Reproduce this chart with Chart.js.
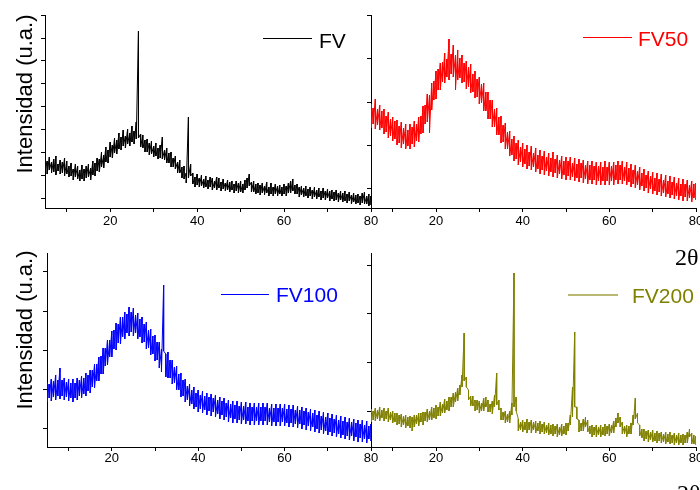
<!DOCTYPE html>
<html>
<head>
<meta charset="utf-8">
<script src="https://cdn.jsdelivr.net/npm/chart.js@4/dist/chart.umd.min.js"></script>
<style>
  body { margin: 0; background: #fff; }
  #wrap { position: relative; width: 700px; height: 490px; overflow: hidden; background: #fff; font-family: 'Liberation Sans', Arial, sans-serif; }
  canvas { position: absolute; }
  .lg { position: absolute; font-size: 21px; line-height: 21px; white-space: nowrap; }
  .lgline { position: absolute; height: 1px; }
  .ytitle { position: absolute; font-size: 22px; line-height: 22px; white-space: nowrap; transform: translate(-50%, -50%) rotate(-90deg); }
  .xtitle { position: absolute; font-family: 'Liberation Serif', 'DejaVu Serif', serif; font-size: 24px; line-height: 24px; }
</style>
</head>
<body>
<div id="wrap">
  <canvas id="c1" width="365" height="232" style="left:25px;top:5px"></canvas>
  <canvas id="c2" width="349" height="232" style="left:351px;top:5px"></canvas>
  <canvas id="c3" width="363" height="232" style="left:27px;top:243px"></canvas>
  <canvas id="c4" width="349" height="232" style="left:351px;top:243px"></canvas>

  <div class="ytitle" style="left:25px;top:94px">Intensidad (u.a.)</div>
  <div class="ytitle" style="left:25px;top:330px">Intensidad (u.a.)</div>
  <div class="xtitle" style="left:675px;top:245px">2θ</div>
  <div class="xtitle" style="left:677px;top:481px">2θ</div>

  <div class="lgline" style="left:263px;top:38px;width:49px;background:#000"></div>
  <div class="lg" style="left:319px;top:30px;color:#000">FV</div>
  <div class="lgline" style="left:583px;top:37px;width:49px;background:#f00"></div>
  <div class="lg" style="left:638px;top:28px;color:#f00">FV50</div>
  <div class="lgline" style="left:221px;top:294px;width:48px;background:#00f"></div>
  <div class="lg" style="left:276px;top:284px;color:#00f">FV100</div>
  <div class="lgline" style="left:568px;top:294px;width:50px;height:2px;background:rgba(128,128,0,0.55)"></div>
  <div class="lg" style="left:632px;top:285px;color:#808000">FV200</div>
</div>
<script>
// 2θ (degrees)
const angles = [
  5, 5.5, 6, 6.5, 7, 7.5, 8, 8.5, 9, 9.5,
  10, 10.5, 11, 11.5, 12, 12.5, 13, 13.5, 14, 14.5,
  15, 15.5, 16, 16.5, 17, 17.5, 18, 18.5, 19, 19.5,
  20, 20.5, 21, 21.5, 22, 22.5, 23, 23.5, 24, 24.5,
  25, 25.5, 26, 26.5, 27, 27.5, 28, 28.5, 29, 29.5,
  30, 30.5, 31, 31.5, 32, 32.5, 33, 33.5, 34, 34.5,
  35, 35.5, 36, 36.5, 37, 37.5, 38, 38.5, 39, 39.5,
  40, 40.5, 41, 41.5, 42, 42.5, 43, 43.5, 44, 44.5,
  45, 45.5, 46, 46.5, 47, 47.5, 48, 48.5, 49, 49.5,
  50, 50.5, 51, 51.5, 52, 52.5, 53, 53.5, 54, 54.5,
  55, 55.5, 56, 56.5, 57, 57.5, 58, 58.5, 59, 59.5,
  60, 60.5, 61, 61.5, 62, 62.5, 63, 63.5, 64, 64.5,
  65, 65.5, 66, 66.5, 67, 67.5, 68, 68.5, 69, 69.5,
  70, 70.5, 71, 71.5, 72, 72.5, 73, 73.5, 74, 74.5,
  75, 75.5, 76, 76.5, 77, 77.5, 78, 78.5, 79, 79.5,
  80
];

// intensity (u.a.): top and bottom of the noisy trace at each angle
const fvHigh = [
  50, 47, 51, 46, 49, 52, 44, 48, 46, 50,
  47, 42, 45, 39, 44, 42, 38, 43, 39, 42,
  44, 40, 47, 45, 50, 49, 56, 53, 61, 58,
  66, 63, 70, 68, 75, 71, 78, 72, 79, 75,
  82, 77, 86, 177, 74, 73, 68, 69, 65, 67,
  62, 65, 60, 63, 71, 58, 60, 55, 56, 50,
  52, 46, 48, 41, 42, 35, 91, 44, 35, 31,
  34, 30, 33, 29, 32, 28, 31, 30, 27, 31,
  30, 26, 29, 25, 28, 26, 27, 24, 27, 25,
  27, 24, 28, 30, 34, 26, 27, 24, 25, 23,
  25, 22, 26, 21, 25, 21, 24, 22, 23, 21,
  24, 22, 25, 27, 29, 23, 24, 21, 22, 20,
  22, 19, 21, 18, 21, 18, 20, 17, 20, 17,
  19, 17, 18, 16, 18, 15, 17, 15, 17, 14,
  16, 13, 15, 13, 14, 12, 15, 16, 12, 14,
  12
];
const fvLow = [
  37, 34, 38, 35, 36, 33, 37, 34, 35, 32,
  34, 31, 32, 28, 31, 29, 27, 29, 27, 30,
  31, 28, 33, 32, 37, 36, 41, 40, 46, 45,
  51, 50, 55, 54, 59, 58, 62, 60, 64, 62,
  66, 64, 69, 70, 61, 60, 56, 56, 53, 54,
  51, 52, 49, 50, 49, 48, 45, 45, 41, 41,
  39, 35, 35, 30, 29, 25, 30, 32, 24, 21,
  23, 21, 22, 20, 21, 19, 21, 18, 20, 18,
  20, 17, 19, 17, 18, 16, 18, 15, 17, 15,
  16, 15, 18, 20, 22, 16, 16, 14, 15, 13,
  15, 13, 15, 12, 14, 12, 14, 12, 14, 12,
  14, 12, 15, 15, 17, 14, 14, 11, 13, 11,
  12, 10, 12, 9, 11, 9, 11, 8, 10, 8,
  10, 7, 9, 7, 8, 6, 8, 6, 7, 5,
  7, 4, 6, 4, 5, 3, 5, 4, 4, 2,
  3
];

const fv50High = [
  104, 100, 109, 99, 103, 97, 99, 92, 96, 89,
  91, 87, 88, 82, 86, 80, 84, 78, 84, 81,
  87, 84, 91, 92, 102, 103, 114, 113, 125, 127,
  137, 139, 145, 146, 155, 149, 169, 154, 163, 153,
  158, 150, 153, 145, 147, 141, 144, 134, 137, 129,
  131, 124, 125, 116, 116, 108, 108, 99, 100, 91,
  92, 83, 85, 76, 77, 69, 72, 65, 68, 61,
  65, 59, 63, 56, 62, 55, 60, 53, 58, 52,
  57, 51, 55, 50, 56, 49, 53, 48, 52, 47,
  51, 47, 51, 45, 50, 44, 49, 45, 48, 43,
  47, 43, 47, 42, 46, 42, 46, 41, 47, 41,
  46, 42, 46, 43, 47, 43, 47, 41, 46, 40,
  44, 38, 43, 37, 41, 35, 39, 33, 37, 32,
  36, 30, 35, 29, 34, 28, 33, 27, 32, 26,
  31, 25, 30, 24, 29, 24, 28, 23, 27, 24,
  25
];
const fv50Low = [
  80, 84, 79, 83, 78, 80, 74, 76, 70, 72,
  67, 69, 63, 65, 60, 64, 59, 62, 59, 64,
  61, 67, 66, 74, 75, 84, 86, 75, 98, 108,
  109, 118, 118, 126, 125, 131, 128, 134, 131, 118,
  128, 130, 125, 126, 119, 121, 115, 116, 110, 111,
  104, 105, 97, 97, 89, 89, 81, 81, 73, 73,
  65, 66, 59, 59, 52, 53, 47, 49, 43, 46,
  41, 44, 39, 42, 38, 41, 36, 39, 34, 38,
  33, 37, 32, 36, 31, 35, 30, 34, 29, 33,
  28, 32, 28, 31, 27, 30, 26, 30, 25, 29,
  24, 28, 24, 28, 23, 27, 23, 27, 23, 27,
  23, 27, 23, 28, 24, 28, 24, 27, 23, 26,
  21, 24, 20, 23, 18, 22, 17, 20, 15, 19,
  14, 17, 13, 16, 12, 15, 11, 14, 10, 13,
  9, 12, 8, 12, 7, 11, 7, 10, 6, 10,
  8
];

const fv100High = [
  65, 63, 68, 66, 72, 67, 79, 67, 69, 65,
  68, 64, 68, 64, 69, 67, 71, 69, 74, 72,
  77, 77, 83, 83, 90, 91, 99, 99, 107, 107,
  116, 117, 124, 123, 130, 130, 135, 133, 140, 135,
  139, 132, 134, 128, 130, 123, 125, 117, 118, 111,
  112, 105, 105, 98, 162, 93, 95, 87, 87, 80,
  81, 73, 74, 67, 68, 61, 63, 57, 60, 54,
  57, 52, 56, 51, 54, 50, 53, 49, 52, 47,
  50, 46, 49, 44, 47, 43, 46, 42, 46, 41,
  45, 41, 45, 40, 44, 40, 44, 40, 44, 40,
  44, 40, 44, 39, 43, 39, 43, 39, 43, 39,
  43, 38, 42, 38, 42, 37, 41, 37, 40, 36,
  39, 35, 38, 34, 37, 32, 36, 31, 35, 30,
  34, 29, 33, 28, 32, 27, 31, 26, 30, 25,
  29, 25, 28, 24, 27, 23, 27, 22, 26, 21,
  23
];
const fv100Low = [
  45, 49, 46, 50, 47, 51, 48, 51, 47, 50,
  46, 49, 45, 49, 47, 51, 49, 53, 51, 56,
  54, 60, 59, 66, 66, 73, 73, 81, 82, 90,
  90, 98, 97, 104, 103, 110, 108, 114, 111, 115,
  111, 114, 108, 110, 104, 105, 98, 99, 92, 93,
  86, 87, 79, 75, 96, 70, 69, 69, 63, 64,
  57, 57, 50, 51, 45, 47, 41, 43, 38, 40,
  35, 38, 34, 37, 32, 36, 31, 35, 30, 33,
  28, 32, 27, 30, 25, 29, 24, 28, 24, 27,
  23, 27, 23, 26, 22, 26, 22, 26, 22, 26,
  22, 26, 22, 25, 21, 25, 21, 25, 21, 25,
  21, 24, 20, 24, 20, 23, 19, 23, 18, 22,
  17, 21, 16, 20, 15, 18, 14, 17, 13, 16,
  12, 15, 11, 14, 10, 13, 9, 12, 8, 11,
  7, 11, 6, 10, 5, 9, 5, 8, 4, 8,
  6
];

const fv200High = [
  38, 36, 39, 37, 40, 37, 39, 36, 39, 35,
  36, 34, 34, 32, 33, 31, 32, 30, 31, 30,
  32, 32, 34, 34, 35, 35, 38, 36, 40, 39,
  42, 40, 45, 43, 48, 46, 50, 50, 54, 55,
  59, 62, 72, 114, 70, 57, 51, 51, 47, 47,
  46, 44, 49, 50, 47, 43, 46, 52, 74, 47,
  39, 35, 36, 33, 36, 44, 174, 50, 28, 25,
  27, 25, 28, 25, 27, 25, 26, 24, 26, 23,
  25, 22, 24, 22, 23, 21, 23, 20, 23, 21,
  24, 24, 32, 60, 115, 40, 27, 24, 28, 30,
  27, 21, 22, 20, 22, 20, 22, 20, 23, 21,
  23, 22, 26, 29, 34, 30, 25, 21, 22, 21,
  24, 32, 49, 34, 22, 18, 18, 16, 17, 15,
  17, 14, 16, 14, 15, 13, 15, 13, 15, 12,
  14, 12, 14, 12, 13, 12, 15, 18, 14, 12,
  11
];
const fv200Low = [
  25, 27, 26, 28, 26, 29, 26, 28, 25, 27,
  24, 25, 22, 23, 20, 22, 19, 21, 19, 16,
  20, 23, 21, 25, 22, 26, 25, 27, 27, 29,
  28, 31, 31, 34, 34, 37, 36, 40, 40, 45,
  46, 52, 60, 66, 60, 47, 41, 41, 36, 37,
  34, 36, 36, 40, 35, 35, 33, 40, 42, 37,
  27, 27, 24, 25, 24, 32, 40, 36, 16, 17,
  15, 17, 14, 17, 14, 17, 14, 16, 13, 15,
  13, 14, 12, 13, 11, 13, 10, 12, 11, 13,
  12, 16, 22, 30, 40, 28, 15, 16, 16, 20,
  15, 13, 10, 12, 10, 12, 10, 12, 11, 13,
  11, 14, 14, 20, 24, 20, 13, 13, 10, 13,
  13, 22, 28, 24, 11, 9, 6, 8, 5, 7,
  5, 6, 4, 6, 4, 5, 3, 5, 3, 4,
  2, 4, 2, 4, 2, 4, 4, 10, 3, 3,
  2
];

// tick values
const xTicks = [10, 20, 30, 40, 50, 60, 70, 80];
const xLabels = [20, 40, 60, 80];
const yTicksFV = [10, 33, 56, 79, 102, 125, 147, 170, 193];
const yTicksFV50 = [20, 63, 106, 150, 193];
const yTicksFV100 = [19, 58, 97, 136, 175];
const yTicksFV200 = [36, 85, 134, 182];

function makeChart(id, name, high, low, color, yMax, yTicks, padRight, xHeight, labelPad) {
    // each angle gives a short vertical stroke from the top to the bottom of the noise band
    const points = angles.flatMap((a, i) => [{ x: a, y: high[i] }, { x: a, y: low[i] }]);
    return new Chart(document.getElementById(id), {
        type: 'line',
        data: {
            datasets: [{
                label: name,
                data: points,
                borderColor: color,
                borderWidth: 1,
                pointRadius: 0,
                tension: 0
            }]
        },
        options: {
            responsive: false,
            animation: false,
            devicePixelRatio: 1,
            layout: { padding: { top: 10, right: padRight, left: 0, bottom: 0 } },
            plugins: { legend: { display: false }, tooltip: { enabled: false } },
            scales: {
                x: {
                    type: 'linear',
                    min: 5,
                    max: 80,
                    border: { display: true, color: '#000', width: 1 },
                    grid: { drawOnChartArea: false, drawTicks: true, tickLength: 4, color: '#000' },
                    ticks: {
                        color: '#000',
                        padding: labelPad,
                        maxRotation: 0,
                        autoSkip: false,
                        font: { family: "'Liberation Sans', Arial, sans-serif", size: 13 },
                        callback: v => xLabels.includes(v) ? String(v) : ''
                    },
                    afterBuildTicks: s => { s.ticks = xTicks.map(v => ({ value: v })); },
                    afterFit: s => { s.height = xHeight; s.paddingLeft = 0; s.paddingRight = 0; }
                },
                y: {
                    min: 0,
                    max: yMax,
                    border: { display: true, color: '#000', width: 1 },
                    grid: { drawOnChartArea: false, drawTicks: true, tickLength: 4, color: '#000' },
                    ticks: { display: false },
                    afterBuildTicks: s => { s.ticks = yTicks.map(v => ({ value: v })); },
                    afterFit: s => { s.width = 20; s.paddingTop = 0; s.paddingBottom = 0; }
                }
            }
        }
    });
}

makeChart('c1', 'FV', fvHigh, fvLow, '#000000', 193, yTicksFV, 19, 29, 2);
makeChart('c2', 'FV50', fv50High, fv50Low, '#ff0000', 193, yTicksFV50, 4, 29, 2);
makeChart('c3', 'FV100', fv100High, fv100Low, '#0000ff', 194, yTicksFV100, 19, 28, 0);
makeChart('c4', 'FV200', fv200High, fv200Low, '#808000', 194, yTicksFV200, 4, 28, 0);
</script>
</body>
</html>
